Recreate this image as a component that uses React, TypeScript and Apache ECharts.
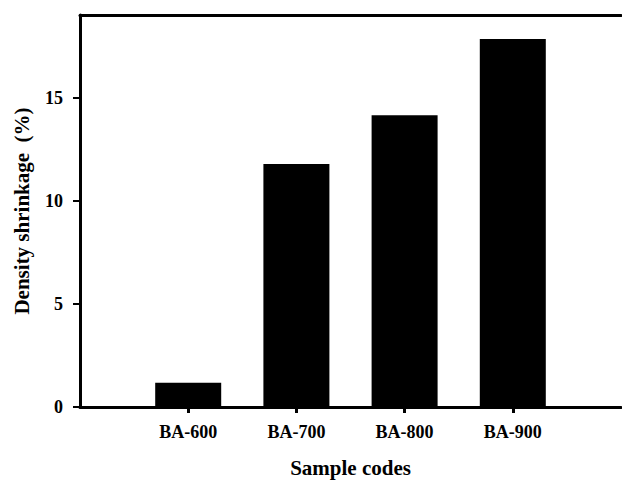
import React, { useEffect, useRef } from "react";
import * as echarts from "echarts";

// Sample codes and their density shrinkage (%)
const sampleCodes = ["BA-600", "BA-700", "BA-800", "BA-900"];
const shrinkage = [1.18, 11.78, 14.14, 17.84];
const yTicks = [0, 5, 10, 15];

// Empty slots at both ends give the category axis its outer padding
const slots = ["", ...sampleCodes, " "];

const FONT = "'Liberation Serif', 'Times New Roman', serif";

export default function App() {
  const ref = useRef<HTMLDivElement>(null);

  useEffect(() => {
    if (!ref.current) return;
    const chart = echarts.init(ref.current, undefined, { renderer: "svg" });
    const isCode = (_: number, v: string) => sampleCodes.includes(v);
    chart.setOption({
      animation: false,
      backgroundColor: "#ffffff",
      grid: { left: 80, right: 1, top: 15, bottom: 74, outerBoundsMode: "none", containLabel: false },
      xAxis: [
        {
          type: "category",
          data: slots,
          boundaryGap: false,
          position: "bottom",
          name: "Sample codes",
          nameLocation: "middle",
          nameGap: 50,
          nameTextStyle: { fontFamily: FONT, fontWeight: "bold", fontSize: 21, color: "#000" },
          axisLine: { show: true, lineStyle: { color: "#000", width: 3 } },
          axisTick: { show: true, inside: false, length: 6, interval: isCode, lineStyle: { color: "#000", width: 3 } },
          axisLabel: {
            interval: isCode,
            margin: 16,
            fontFamily: FONT,
            fontWeight: "bold",
            fontSize: 18,
            color: "#000",
          },
          splitLine: { show: false },
        },
        {
          type: "category",
          data: slots,
          boundaryGap: false,
          position: "top",
          axisLine: { show: true, lineStyle: { color: "#000", width: 3 } },
          axisTick: { show: false },
          axisLabel: { show: false },
          splitLine: { show: false },
        },
      ],
      yAxis: {
        type: "value",
        min: 0,
        max: 19,
        interval: 5,
        name: "Density shrinkage  (%)",
        nameLocation: "middle",
        nameGap: 48,
        nameTextStyle: { fontFamily: FONT, fontWeight: "bold", fontSize: 21, color: "#000" },
        axisLine: { show: true, lineStyle: { color: "#000", width: 3 } },
        axisTick: { show: true, inside: false, length: 7, customValues: yTicks, lineStyle: { color: "#000", width: 2 } },
        axisLabel: {
          customValues: yTicks,
          margin: 17,
          fontFamily: FONT,
          fontWeight: "bold",
          fontSize: 18,
          color: "#000",
        },
        splitLine: { show: false },
      },
      series: [
        {
          type: "bar",
          xAxisIndex: 0,
          barWidth: 66,
          itemStyle: { color: "#000" },
          data: sampleCodes.map((c, i) => [c, shrinkage[i]]),
        },
      ],
    });
    return () => chart.dispose();
  }, []);

  return (
    <div
      ref={ref}
      style={{ position: "fixed", left: 0, top: 0, width: 622, height: 481, background: "#fff" }}
    />
  );
}
